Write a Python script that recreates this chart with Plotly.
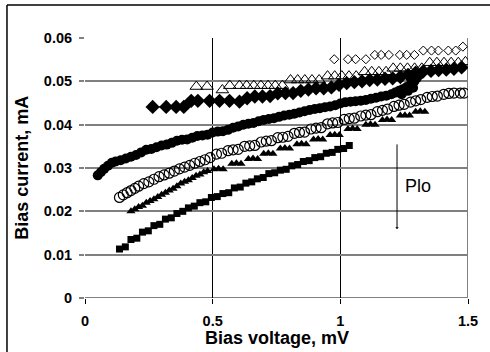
import plotly.graph_objects as go

# ---------------- data ----------------
sq_x = [0.135,0.158,0.180,0.203,0.225,0.248,0.270,0.293,0.315,0.338,0.360,0.383,0.405,0.428,0.450,0.473,
        0.495,0.518,0.540,0.563,0.585,0.608,0.630,0.653,0.675,0.698,0.720,0.743,0.765,0.788,0.810,0.833,
        0.855,0.878,0.900,0.923,0.945,0.968,0.990,1.013,1.035]
sq_y = [0.0113,0.0118,0.0135,0.0138,0.0152,0.0155,0.0167,0.0170,0.0182,0.0185,0.0195,0.0200,0.0208,0.0212,
        0.0220,0.0222,0.0232,0.0234,0.0241,0.0243,0.0254,0.0256,0.0265,0.0268,0.0275,0.0278,0.0287,0.0289,
        0.0295,0.0297,0.0305,0.0308,0.0315,0.0317,0.0324,0.0326,0.0334,0.0336,0.0343,0.0345,0.0352]

tri_x = [0.180,0.195,0.210,0.225,0.240,0.255,0.270,0.285,0.300,0.315,0.330,0.345,0.360,0.375,0.390,0.405,
         0.420,0.435,0.450,0.465,0.480,
         0.505,0.523,0.541,0.575,0.593,0.611,0.640,0.658,0.676,0.700,0.718,0.736,0.765,0.783,0.801,
         0.830,0.848,0.866,0.895,0.913,0.931,0.960,0.978,0.996,1.030,1.048,1.066,1.100,1.118,1.136,
         1.165,1.183,1.201,1.235,1.253,1.271,1.295,1.313,1.331]
tri_y = [0.0200,0.0205,0.0210,0.0213,0.0220,0.0224,0.0228,0.0233,0.0238,0.0243,0.0248,0.0252,0.0258,0.0264,
         0.0268,0.0272,0.0277,0.0282,0.0285,0.0290,0.0293,
         0.0297,0.0298,0.0297,0.0310,0.0311,0.0310,0.0321,0.0322,0.0321,0.0333,0.0334,0.0333,
         0.0345,0.0346,0.0345,0.0355,0.0356,0.0355,0.0366,0.0367,0.0366,0.0376,0.0377,0.0376,
         0.0390,0.0391,0.0390,0.0400,0.0401,0.0400,0.0411,0.0412,0.0411,0.0421,0.0422,0.0421,
         0.0430,0.0431,0.0430]

oc_x = [0.135,0.150,0.165,0.180,0.195,0.210,0.230,0.250,0.270,0.290,0.310,0.330,0.350,0.370,0.390,0.410,
        0.430,0.450,0.470,0.490,
        0.515,0.535,0.560,0.580,0.600,0.625,0.645,0.665,0.690,0.710,0.730,0.755,0.775,0.795,0.820,0.840,
        0.860,0.885,0.905,0.925,0.950,0.970,0.990,1.015,1.035,1.055,1.080,1.100,1.120,1.145,1.165,1.185,
        1.210,1.230,1.250,1.275,1.295,1.315,1.340,1.360,1.380,1.405,1.425,1.445,1.470,1.485]
oc_y = [0.0232,0.0238,0.0243,0.0248,0.0253,0.0258,0.0264,0.0268,0.0274,0.0280,0.0284,0.0288,0.0293,0.0298,
        0.0302,0.0306,0.0311,0.0315,0.0319,0.0324,
        0.0332,0.0334,0.0340,0.0342,0.0343,0.0350,0.0351,0.0352,0.0360,0.0362,0.0363,0.0370,0.0371,0.0373,
        0.0380,0.0382,0.0383,0.0390,0.0392,0.0393,0.0402,0.0404,0.0405,0.0412,0.0414,0.0415,0.0420,0.0422,
        0.0423,0.0430,0.0433,0.0436,0.0442,0.0445,0.0447,0.0452,0.0455,0.0458,0.0463,0.0465,0.0466,0.0470,
        0.0472,0.0473,0.0473,0.0473]

fc_x = [0.050,0.062,0.075,0.090,0.105,0.120,0.140,0.160,0.180,0.200,0.220,0.240,0.260,0.280,0.300,0.320,
        0.340,0.360,0.380,0.400,0.420,0.440,0.460,0.480,0.500,0.520,0.540,0.560,0.580,0.600,0.620,0.640,
        0.660,0.680,0.700,0.720,0.740,0.760,0.780,0.800,0.820,0.840,0.860,0.880,0.900,0.920,0.940,0.960,
        0.980,1.000,1.020,1.040,1.060,1.080,1.100,1.120,1.140,1.160,1.180,1.200,1.215,1.230,1.245,1.260,
        1.275,1.290,1.300,1.310,1.240,1.265,1.285]
fc_y = [0.0283,0.0290,0.0298,0.0305,0.0312,0.0315,0.0318,0.0322,0.0326,0.0330,0.0336,0.0342,0.0344,0.0348,
        0.0352,0.0354,0.0358,0.0363,0.0365,0.0366,0.0370,0.0374,0.0375,0.0377,0.0382,0.0384,0.0385,0.0388,
        0.0393,0.0396,0.0400,0.0402,0.0404,0.0408,0.0411,0.0413,0.0415,0.0418,0.0421,0.0423,0.0425,0.0428,
        0.0431,0.0434,0.0436,0.0438,0.0440,0.0442,0.0445,0.0449,0.0452,0.0453,0.0454,0.0455,0.0457,0.0460,
        0.0462,0.0465,0.0467,0.0470,0.0474,0.0478,0.0482,0.0487,0.0492,0.0500,0.0508,0.0515,0.0470,0.0478,
        0.0485]

fd_x = [0.265,0.318,0.357,0.387,0.416,0.442,0.488,0.527,0.566,0.605,0.635,0.665,0.695,0.725,0.755,0.785,
        0.815,0.845,0.875,0.905,0.935,0.965,0.995,1.025,1.055,1.085,1.115,1.145,1.175,1.205,1.235,1.265,
        1.295,1.325,1.355,1.385,1.415,1.445,1.475]
fd_y = [0.0441,0.0441,0.0441,0.0441,0.0455,0.0455,0.0455,0.0455,0.0455,0.0453,0.0461,0.0465,0.0465,0.0466,
        0.0472,0.0473,0.0473,0.0478,0.0481,0.0484,0.0484,0.0486,0.0492,0.0496,0.0498,0.0500,0.0503,0.0504,
        0.0506,0.0507,0.0510,0.0515,0.0520,0.0523,0.0524,0.0526,0.0527,0.0529,0.0532]

ot_x = [0.436,0.478,0.538,0.567,0.605,0.633,0.661,0.689,0.717,0.745,0.773,0.805,0.833,0.861,0.889,0.917,
        0.950,0.978,1.006,1.034,1.062,1.095,1.123,1.151,1.179,1.207,1.235,1.263,1.291,1.319,1.350,1.378,
        1.406,1.434,1.462,1.490]
ot_y = [0.0488,0.0488,0.0480,0.0490,0.0490,0.0490,0.0490,0.0490,0.0490,0.0490,0.0490,0.0503,0.0503,0.0503,
        0.0503,0.0503,0.0512,0.0512,0.0512,0.0512,0.0512,0.0522,0.0522,0.0522,0.0522,0.0530,0.0530,0.0530,
        0.0530,0.0530,0.0543,0.0543,0.0543,0.0543,0.0543,0.0545]

od_x = [0.976,1.030,1.060,1.100,1.135,1.160,1.190,1.233,1.260,1.290,1.325,1.357,1.384,1.423,1.452,1.480]
od_y = [0.0551,0.0551,0.0551,0.0551,0.0561,0.0561,0.0561,0.0561,0.0561,0.0561,0.0571,0.0571,0.0571,0.0571,
        0.0571,0.0580]

x_ticks = [0, 0.5, 1, 1.5]
x_ticktext = ["0", "0.5", "1", "1.5"]
y_ticks = [0, 0.01, 0.02, 0.03, 0.04, 0.05, 0.06]
y_ticktext = ["0", "0.01", "0.02", "0.03", "0.04", "0.05", "0.06"]

# ---------------- figure ----------------
FONT = "Liberation Sans, Arial, sans-serif"
fig = go.Figure()

def add(x, y, symbol, size, lw=0, mode="markers", line=None):
    kw = {}
    if line is not None:
        kw["line"] = line
    fig.add_trace(go.Scatter(x=x, y=y, mode=mode,
                             marker=dict(symbol=symbol, size=size, color="black",
                                         line=dict(color="black", width=lw)),
                             showlegend=False, **kw))

add(sq_x, sq_y, "square", 7)
add(tri_x, tri_y, "triangle-up", 8)
add(oc_x, oc_y, "circle-open", 10, lw=1.2)
add(fc_x, fc_y, "circle", 10)
add(fd_x, fd_y, "diamond", 11, mode="lines+markers", line=dict(color="blue", width=1))
add(ot_x, ot_y, "triangle-up-open", 11, lw=1)
add(od_x, od_y, "diamond-open", 7, lw=1)

fig.update_layout(
    width=490, height=352,
    margin=dict(l=85, r=22, t=38, b=54),
    paper_bgcolor="white", plot_bgcolor="white",
    xaxis=dict(range=[0, 1.5], tickvals=x_ticks, ticktext=x_ticktext,
               showgrid=True, gridcolor="black", gridwidth=1,
               zeroline=False, showline=False,
               ticks="outside", ticklen=5, tickcolor="black", tickwidth=1,
               ticklabelstandoff=5,
               tickfont=dict(family=FONT, size=14.5, color="black", weight="bold")),
    yaxis=dict(range=[0, 0.06], tickvals=y_ticks, ticktext=y_ticktext,
               showgrid=True, gridcolor="#808080", gridwidth=2,
               zeroline=False, showline=False,
               ticks="outside", ticklen=5, tickcolor="#808080", tickwidth=2,
               ticklabelstandoff=4,
               tickfont=dict(family=FONT, size=14.5, color="black", weight="bold")),
    shapes=[
        dict(type="line", xref="x", yref="y", x0=1.5, x1=1.5, y0=0, y1=0.06,
             line=dict(color="#808080", width=2), layer="below"),
        dict(type="line", xref="x", yref="y", x0=0, x1=1.5, y0=0, y1=0,
             line=dict(color="#808080", width=2), layer="below"),
        dict(type="line", xref="paper", yref="paper", x0=-0.2037, x1=-0.2037, y0=-0.3, y1=1.127,
             line=dict(color="black", width=1.5)),
        dict(type="line", xref="paper", yref="paper", x0=-0.2037, x1=1.2, y0=1.127, y1=1.127,
             line=dict(color="black", width=1.5)),
    ],
    annotations=[
        dict(text="Bias voltage, mV", xref="paper", yref="paper", x=0.5, y=-0.152,
             xanchor="center", yanchor="middle", showarrow=False,
             font=dict(family=FONT, size=18, color="black", weight="bold")),
        dict(text="Bias current, mA", xref="paper", yref="paper", x=-0.165, y=0.5,
             xanchor="center", yanchor="middle", showarrow=False, textangle=-90,
             font=dict(family=FONT, size=18, color="black", weight="bold")),
        dict(text="Plo", xref="x", yref="y", x=1.245, y=0.0258,
             xanchor="left", yanchor="middle", showarrow=False,
             font=dict(family=FONT, size=18, color="black")),
        dict(text="", xref="x", yref="y", x=1.222, y=0.0159,
             ax=1.222, ay=0.0358, axref="x", ayref="y",
             showarrow=True, arrowhead=1, arrowsize=0.6, arrowwidth=1, arrowcolor="black",
             standoff=0, startstandoff=0),
    ],
)

fig.write_html("out.html")
